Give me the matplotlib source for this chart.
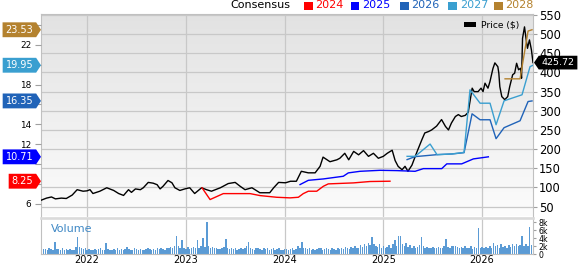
import numpy as np
import matplotlib
matplotlib.use('Agg')
import matplotlib.pyplot as plt
from matplotlib.path import Path
from matplotlib.patches import Rectangle, Patch
from matplotlib.colors import LinearSegmentedColormap

plt.rcParams['font.family'] = ['DejaVu Sans']

# ---------------- data ----------------
years = [2022, 2023, 2024, 2025, 2026]

price_t = [2021.53, 2021.59, 2021.64, 2021.68, 2021.74, 2021.79, 2021.85, 2021.90, 2021.96, 2022.00,
           2022.03, 2022.06, 2022.13, 2022.20, 2022.27, 2022.32, 2022.37, 2022.42, 2022.45, 2022.49,
           2022.54, 2022.57, 2022.62, 2022.67, 2022.71, 2022.74, 2022.77, 2022.82, 2022.86, 2022.89,
           2022.94, 2022.99, 2023.04, 2023.09, 2023.16, 2023.21, 2023.26, 2023.35, 2023.43, 2023.50,
           2023.55, 2023.60, 2023.67, 2023.75, 2023.85, 2023.89, 2023.94, 2024.01, 2024.06, 2024.12,
           2024.17, 2024.24, 2024.31, 2024.36, 2024.39, 2024.46, 2024.53, 2024.56, 2024.61, 2024.65,
           2024.70, 2024.75, 2024.80, 2024.85, 2024.90, 2024.95, 2025.00, 2025.04, 2025.09, 2025.12,
           2025.15, 2025.19, 2025.22, 2025.25, 2025.29, 2025.34, 2025.39, 2025.42, 2025.46, 2025.49,
           2025.54, 2025.59, 2025.63, 2025.66, 2025.69, 2025.73, 2025.76, 2025.79, 2025.83, 2025.86,
           2025.90, 2025.92, 2025.96, 2025.99, 2026.01, 2026.03, 2026.06, 2026.08, 2026.11, 2026.13,
           2026.16, 2026.17, 2026.18, 2026.20, 2026.23, 2026.26, 2026.28, 2026.31, 2026.33, 2026.35,
           2026.37, 2026.39, 2026.40, 2026.41, 2026.43, 2026.45, 2026.46, 2026.48, 2026.50, 2026.516]
price = [66, 72, 75, 70, 72, 71, 80, 94, 90, 91,
         94, 84, 90, 99, 92, 84, 79, 94, 87, 96,
         94, 99, 113, 111, 107, 96, 103, 118, 112, 99,
         92, 96, 99, 84, 99, 94, 90, 99, 110, 113,
         103, 94, 99, 86, 86, 99, 113, 112, 116, 116,
         142, 138, 138, 155, 179, 167, 172, 176, 189, 172,
         194, 185, 196, 181, 189, 176, 181, 189, 197, 170,
         155, 146, 155, 142, 158, 192, 224, 242, 246, 250,
         260, 277, 259, 250, 268, 285, 290, 285, 288, 296,
         359, 350, 350, 359, 350, 372, 359, 376, 410, 425,
         415, 398, 363, 337, 329, 337, 363, 394, 398, 424,
         407, 411, 385, 489, 519, 480, 463, 485, 459, 425.72]

eps24_t = [2023.165, 2023.246, 2023.380, 2023.651, 2023.752, 2023.921, 2024.056, 2024.140,
           2024.190, 2024.241, 2024.326, 2024.393, 2024.443, 2024.697, 2024.866, 2025.068]
eps24 = [7.58, 6.40, 7.00, 7.00, 6.80, 6.63, 6.57, 6.63, 7.00, 7.24, 7.24, 7.74, 7.98, 8.08, 8.22, 8.25]

eps25_t = [2024.157, 2024.241, 2024.393, 2024.595, 2024.646, 2024.765, 2024.967, 2025.136,
           2025.322, 2025.406, 2025.592, 2025.643, 2025.794, 2025.912, 2026.064]
eps25 = [7.91, 8.34, 8.48, 8.75, 9.09, 9.25, 9.35, 9.32, 9.25, 9.52, 9.52, 10.0, 10.0, 10.5, 10.71]

eps26_t = [2025.241, 2025.322, 2025.544, 2025.696, 2025.818, 2025.899, 2025.980, 2026.081,
           2026.142, 2026.223, 2026.385, 2026.466, 2026.506]
eps26 = [10.43, 10.73, 10.93, 11.0, 11.13, 15.05, 14.45, 14.45, 12.54, 13.65, 14.35, 16.29, 16.35]

eps27_t = [2025.241, 2025.322, 2025.474, 2025.544, 2025.696, 2025.818, 2025.878, 2025.980,
           2026.081, 2026.142, 2026.223, 2026.405, 2026.486, 2026.516]
eps27 = [10.76, 10.76, 12.0, 10.93, 11.0, 11.16, 17.47, 16.12, 16.12, 13.95, 16.36, 16.97, 19.81, 19.95]

eps28_t = [2026.233, 2026.385, 2026.466, 2026.506]
eps28 = [18.58, 18.58, 23.4, 23.53]

series_names = ['2024', '2025', '2026', '2027', '2028']
series_colors = ['#ff0000', '#0000ff', '#2063b8', '#3a9fd0', '#b4822f']

# left scale ticks; the ones hidden behind the value tags carry no label
eps_ticks = [6, 8, 10, 12, 14, 16, 18, 20, 22, 24]
eps_tick_labels = ['6', '', '', '12', '14', '', '18', '', '22', '']

# weekly volume, thousands of shares
vol_start = 2021.54
volume = [1.1, 1.3, 1.2, 1.0, 1.4, 1.2, 1.1, 2.9, 1.3, 1.2, 1.0, 1.5, 1.1,
          1.2, 0.9, 1.3, 1.0, 1.1, 1.8, 4.2, 1.7, 1.6, 1.2, 1.4, 1.0, 1.2,
          0.9, 1.1, 1.3, 1.0, 1.2, 1.4, 1.1, 1.0, 2.7, 1.3, 1.1, 0.9, 1.2,
          1.0, 1.4, 1.1, 1.2, 0.9, 1.3, 1.7, 1.2, 1.0, 1.1, 1.4, 1.2, 1.0,
          1.3, 1.1, 0.9, 1.2, 1.6, 1.3, 1.0, 1.2, 1.1, 1.5, 1.2, 1.4, 1.3,
          1.1, 1.6, 1.4, 1.8, 1.5, 2.0, 4.6, 1.9, 1.6, 3.5, 1.4, 1.2, 1.7,
          1.3, 1.5, 1.8, 1.4, 3.4, 1.6, 2.0, 4.0, 1.8, 8.0, 1.9, 1.5, 1.7,
          1.4, 1.6, 1.3, 1.2, 1.5, 1.7, 3.8, 1.4, 1.2, 1.6, 1.3, 1.5, 1.1,
          1.3, 1.6, 1.2, 1.4, 1.9, 3.0, 1.5, 1.3, 1.1, 1.6, 1.4, 1.2, 1.0,
          1.4, 1.2, 1.5, 1.1, 1.3, 1.6, 1.0, 1.2, 1.4, 1.1, 0.9, 1.3, 1.2,
          1.0, 1.2, 1.4, 1.1, 1.3, 1.9, 1.5, 3.0, 1.6, 1.4, 1.2, 1.5, 1.1,
          1.3, 1.0, 1.2, 1.6, 1.4, 1.1, 1.3, 1.5, 1.2, 1.0, 1.4, 1.3, 1.1,
          1.5, 1.2, 1.6, 1.3, 1.8, 1.4, 1.2, 1.7, 1.5, 2.0, 1.6, 1.4, 2.2,
          1.8, 2.5, 1.9, 2.8, 2.2, 4.3, 2.6, 2.0, 1.8, 2.4, 1.6, 2.1, 1.5,
          1.8, 2.2, 1.6, 2.6, 3.4, 2.0, 4.6, 4.4, 2.4, 2.0, 2.8, 1.7, 2.3,
          1.6, 2.0, 1.5, 1.8, 2.2, 4.2, 1.9, 1.6, 1.7, 1.5, 1.4, 1.8, 1.6,
          1.5, 1.7, 1.4, 1.6, 2.0, 3.8, 1.8, 1.5, 1.9, 2.1, 2.0, 1.7, 1.6,
          1.8, 1.4, 2.0, 1.6, 1.5, 1.9, 1.3, 1.7, 1.6, 6.4, 1.5, 1.7, 1.4,
          1.8, 1.6, 2.0, 1.5, 2.8, 1.9, 2.2, 1.6, 2.4, 1.8, 2.0, 1.5, 2.2,
          1.7, 2.4, 1.9, 2.6, 2.0, 2.3, 4.4, 2.1, 2.5, 1.9, 6.8, 2.2, 2.5]


# ---------------- flag shapes for the value tags ----------------
def flag_right(x0, y0, width, height, mutation_size):
    px = 0.3 * mutation_size
    py = 0.25 * mutation_size
    tip = 0.5 * mutation_size
    x0, x1 = x0 - px, x0 + width + px
    y0, y1 = y0 - py, y0 + height + py
    ym = (y0 + y1) / 2
    return Path([(x0, y0), (x1, y0), (x1 + tip, ym), (x1, y1), (x0, y1), (x0, y0)], closed=True)

def flag_left(x0, y0, width, height, mutation_size):
    px = 0.3 * mutation_size
    py = 0.25 * mutation_size
    tip = 0.5 * mutation_size
    x0, x1 = x0 - px, x0 + width + px
    y0, y1 = y0 - py, y0 + height + py
    ym = (y0 + y1) / 2
    return Path([(x0, y0), (x1, y0), (x1, y1), (x0, y1), (x0 - tip, ym), (x0, y0)], closed=True)


W, H, DPI = 579, 264, 100
fig = plt.figure(figsize=(W / DPI, H / DPI), dpi=DPI)

def rect(l, t, r, b):
    return [l / W, 1 - b / H, (r - l) / W, (b - t) / H]

grid_c = '#c8c8c8'
spine_c = '#c0c0c0'

ax = fig.add_axes(rect(41, 14, 533, 216.5))
axv = fig.add_axes(rect(41, 218, 533, 254), sharex=ax)
ax_eps = ax.twinx()

# gradient background of the price panel
grad = np.linspace(0, 1, 256).reshape(-1, 1)
bg = LinearSegmentedColormap.from_list('bg', ['#e2e2e2', '#fcfcfc'])
ax.imshow(grad, cmap=bg, aspect='auto', extent=[0, 1, 0, 1], transform=ax.transAxes, zorder=0)

ax.plot(price_t, price, color='black', lw=1.0, zorder=3)
ax.set_xlim(2021.534, 2026.516)
ax.set_ylim(24, 552.6)
ax.yaxis.tick_right()
ax.set_yticks(range(50, 551, 50))
ax.set_xticks(years)
ax.grid(True, color=grid_c, lw=0.9)
ax.tick_params(axis='x', length=0, labelbottom=False)
ax.tick_params(axis='y', direction='out', length=3, width=0.8, color='#a0a0a0', pad=1.5, labelsize=8.3)
for s in ax.spines.values():
    s.set_color(spine_c)
ax.spines['bottom'].set_visible(False)

ax.legend(handles=[Patch(facecolor='black', edgecolor='none')], labels=['Price ($)'],
          loc='upper right', bbox_to_anchor=(0.985, 1.0), frameon=False, fontsize=6.6,
          handlelength=1.3, handleheight=0.45, handletextpad=0.5, borderaxespad=0.3)

# consensus EPS lines, left scale
eps_t = [eps24_t, eps25_t, eps26_t, eps27_t, eps28_t]
eps_v = [eps24, eps25, eps26, eps27, eps28]
for t, v, c in zip(eps_t, eps_v, series_colors):
    ax_eps.plot(t, v, color=c, lw=1.0)
ax_eps.set_ylim(4.69, 25.12)
ax_eps.set_yticks(eps_ticks)
ax_eps.set_yticklabels(eps_tick_labels)
ax_eps.yaxis.tick_left()
ax_eps.tick_params(axis='y', direction='out', length=4, width=0.8, color='#a0a0a0', pad=3, labelsize=6.4)
for s in ax_eps.spines.values():
    s.set_visible(False)

# value tags
fs = 7
ms = fs * DPI / 72
for v, c in zip(eps_v, series_colors):
    ax_eps.annotate('%.2f' % v[-1], xy=(0, v[-1]), xycoords=('axes fraction', 'data'),
                    xytext=(-0.8 * ms, 0), textcoords='offset pixels', ha='right', va='center',
                    color='white', fontsize=fs, annotation_clip=False, zorder=5,
                    bbox=dict(boxstyle=flag_right, fc=c, ec='none'))
fs2 = 6.8
ms2 = fs2 * DPI / 72
ax.annotate('%.2f' % price[-1], xy=(1, price[-1]), xycoords=('axes fraction', 'data'),
            xytext=(0.8 * ms2 + 1, 0), textcoords='offset pixels', ha='left', va='center',
            color='white', fontsize=fs2, annotation_clip=False, zorder=5,
            bbox=dict(boxstyle=flag_left, fc='black', ec='none'))

# volume panel
vol_t = vol_start + np.arange(len(volume)) / 52
axv.bar(vol_t, volume, width=0.78 / 52, color='#5b9bd5', edgecolor='none', zorder=2)
axv.set_ylim(0, 9.0)
axv.yaxis.tick_right()
axv.set_yticks([0, 2, 4, 6, 8])
axv.set_yticklabels(['0', '2k', '4k', '6k', '8k'])
axv.set_xticks(years)
axv.set_xticklabels([str(y) for y in years])
axv.grid(True, axis='x', color=grid_c, lw=0.9)
axv.tick_params(axis='x', length=0, pad=0.8, labelsize=7.0)
axv.tick_params(axis='y', direction='out', length=2.5, width=0.8, color='#a0a0a0', pad=1.5, labelsize=5.6)
for s in axv.spines.values():
    s.set_color(spine_c)
axv.spines['top'].set_color('#dadada')
axv.spines['top'].set_linewidth(1.9)
axv.text(0.02, 0.69, 'Volume', transform=axv.transAxes, color='#3f88c5', fontsize=8, va='center')

# consensus legend on top
fig.text(230 / W, 1 - 5.5 / H, 'Consensus', fontsize=8, va='center', ha='left', color='black')
leg_x = [304, 350.7, 400, 448.3, 494]
for x, name, c in zip(leg_x, series_names, series_colors):
    fig.patches.append(Rectangle((x / W, 1 - 9.5 / H), 8.5 / W, 8 / H, transform=fig.transFigure,
                                 facecolor=c, edgecolor='none'))
    fig.text((x + 11.5) / W, 1 - 5.5 / H, name, fontsize=8, va='center', ha='left', color=c)

fig.savefig('out.png', dpi=DPI)
